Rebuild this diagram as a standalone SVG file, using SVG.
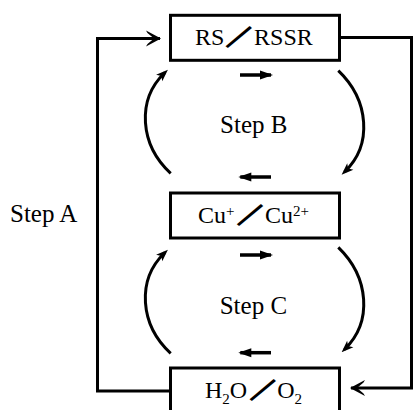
<svg xmlns="http://www.w3.org/2000/svg" width="413" height="410" viewBox="0 0 413 410">
<defs>
<style>
.box{fill:#fff;stroke:#000;stroke-width:3}
.ln{fill:none;stroke:#000;stroke-width:3}
.sm{fill:none;stroke:#000;stroke-width:3.5}
.t{font-family:"Liberation Serif","Times New Roman",serif;font-size:24px;fill:#000}
.st{font-family:"Liberation Serif","Times New Roman",serif;font-size:25px;fill:#000}
.sl{font-family:"Noto Sans CJK SC","Noto Sans CJK JP",sans-serif;font-weight:bold;font-size:21px;stroke:#000;stroke-width:1.6}
.sup{font-size:15px}
</style>
<marker id="big" markerUnits="userSpaceOnUse" markerWidth="20" markerHeight="20" viewBox="-16 -10 18 20" refX="0" refY="0" orient="auto">
<path d="M1,0 L-14,-8 L-12.5,-5.5 L-6,0 L-12.5,5.5 L-14,8 Z" fill="#000"/>
</marker>
<marker id="arc" markerUnits="userSpaceOnUse" markerWidth="16" markerHeight="16" viewBox="-12 -8 16 16" refX="0" refY="0" orient="auto">
<path d="M4,0 L-8,-4.5 L-5,0 L-8,4.5 Z" fill="#000"/>
</marker>
<marker id="sma" markerUnits="userSpaceOnUse" markerWidth="16" markerHeight="16" viewBox="-14 -8 16 16" refX="0" refY="0" orient="auto">
<path d="M2,0 L-11,-4.5 L-11,4.5 Z" fill="#000"/>
</marker>
</defs>
<rect width="413" height="410" fill="#fff"/>
<g id="connectors">
<path class="ln" d="M169,391 H97.5 V38.5 H160" marker-end="url(#big)"/>
<path class="ln" d="M341,37.5 H411.5 V388 H351" marker-end="url(#big)"/>
<path class="ln" d="M170.7,173.3 C140,145 136,100 165,72.5" marker-end="url(#arc)"/>
<path class="ln" d="M338.3,70.7 C369,100 373,145 344.5,172" marker-end="url(#arc)"/>
<path class="ln" d="M170.7,353.3 C140,325 136,280 165,252.5" marker-end="url(#arc)"/>
<path class="ln" d="M338.3,247.3 C369,277 373,322 344.5,349.5" marker-end="url(#arc)"/>
<path class="sm" d="M240,75 H271" marker-end="url(#sma)"/>
<path class="sm" d="M271,177 H240.3" marker-end="url(#sma)"/>
<path class="sm" d="M240,255 H271" marker-end="url(#sma)"/>
<path class="sm" d="M271,352.7 H240.3" marker-end="url(#sma)"/>
</g>
<g id="node-rs">
<rect class="box" x="170.5" y="15.3" width="169" height="45"/>
<text class="t" x="195" y="45">RS<tspan class="sl" textLength="25" lengthAdjust="spacingAndGlyphs" dx="2" dy="-0.5">／</tspan><tspan dx="2.7" dy="0.5">RSSR</tspan></text>
</g>
<g id="node-cu">
<rect class="box" x="170.5" y="193" width="169" height="45"/>
<text class="t" x="198" y="223">Cu<tspan class="sup" dy="-7.5">+</tspan><tspan class="sl" textLength="25" lengthAdjust="spacingAndGlyphs" dx="3" dy="7">／</tspan><tspan dx="2.5" dy="0.5">Cu</tspan><tspan class="sup" dy="-7.5">2+</tspan></text>
</g>
<g id="node-h2o">
<rect class="box" x="170.5" y="368" width="169" height="45"/>
<text class="t" x="205" y="398">H<tspan class="sup" dy="6">2</tspan><tspan dy="-6">O</tspan><tspan class="sl" textLength="25" lengthAdjust="spacingAndGlyphs" dx="3" dy="-0.5">／</tspan><tspan dx="2" dy="0.5">O</tspan><tspan class="sup" dy="6">2</tspan></text>
</g>
<g id="labels">
<text class="st" x="10" y="221.7">Step A</text>
<text class="st" x="253.8" y="132.7" text-anchor="middle">Step B</text>
<text class="st" x="253.4" y="314" text-anchor="middle">Step C</text>
</g>
</svg>
